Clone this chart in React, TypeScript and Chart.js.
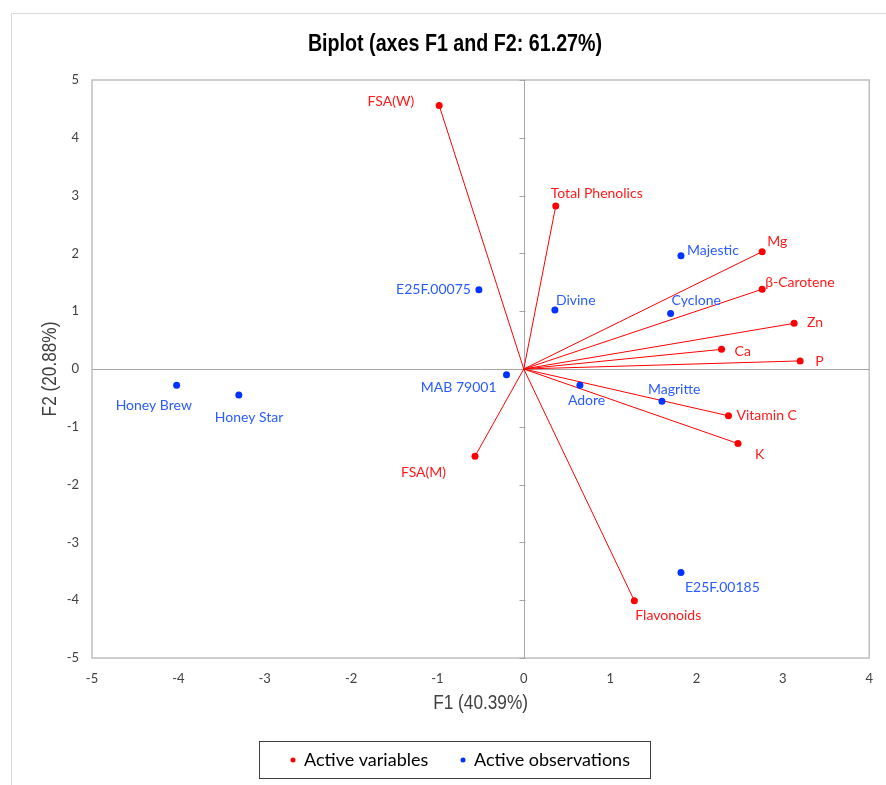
import React, { useEffect, useRef } from "react";
import { Chart, registerables } from "chart.js";

Chart.register(...registerables);

// ---------- data ----------
const chartTitle = "Biplot (axes F1 and F2: 61.27%)";
const xAxisTitle = "F1 (40.39%)";
const yAxisTitle = "F2 (20.88%)";

const variableNames = ["FSA(W)", "Total Phenolics", "Mg", "β-Carotene", "Zn", "Ca", "P", "Vitamin C", "K", "Flavonoids", "FSA(M)"];
const variableF1 = [-0.98, 0.37, 2.76, 2.76, 3.13, 2.29, 3.2, 2.37, 2.48, 1.28, -0.565];
const variableF2 = [4.56, 2.82, 2.03, 1.38, 0.79, 0.34, 0.14, -0.81, -1.29, -4.01, -1.51];

const observationNames = ["E25F.00075", "Divine", "Majestic", "Cyclone", "Magritte", "Adore", "E25F.00185", "MAB 79001", "Honey Brew", "Honey Star"];
const observationF1 = [-0.52, 0.36, 1.82, 1.7, 1.6, 0.65, 1.82, -0.2, -4.02, -3.3];
const observationF2 = [1.37, 1.02, 1.96, 0.96, -0.56, -0.28, -3.52, -0.1, -0.28, -0.45];

const xTickValues = [-5, -4, -3, -2, -1, 0, 1, 2, 3, 4];
const yTickValues = [-5, -4, -3, -2, -1, 0, 1, 2, 3, 4, 5];

const legendLabels = ["Active variables", "Active observations"];

// ---------- label placement (pixels, relative to point) ----------
type Place = [number, number, CanvasTextAlign];
const variableLabelPlace: Place[] = [
  [-25, -4, "right"],
  [-5, -13, "left"],
  [5, -10, "left"],
  [3, -7, "left"],
  [13, -1, "left"],
  [13, 2, "left"],
  [15, 1, "left"],
  [8, 0, "left"],
  [17, 11, "left"],
  [1, 15, "left"],
  [-29, 16, "right"],
];
const observationLabelPlace: Place[] = [
  [-8, 0, "right"],
  [1, -10, "left"],
  [6, -5, "left"],
  [1, -13, "left"],
  [-14, -12, "left"],
  [-12, 15, "left"],
  [4, 15, "left"],
  [-10, 13, "right"],
  [-61, 20, "left"],
  [-24, 22, "left"],
];

// ---------- style ----------
const RED = "#ff0000";
const RED_TEXT = "#ff1a1a";
const BLUE = "#0033ff";
const BLUE_TEXT = "#2a5cff";
const LABEL_FONT = "14px Lato, 'Open Sans', sans-serif";
const TICK_FONT_FAMILY = "Lato, 'Open Sans', sans-serif";
const SANS = "'Liberation Sans', Arial, sans-serif";
const NARROW_SCALE = 0.82;

function narrowText(ctx: CanvasRenderingContext2D, text: string, x: number, y: number, font: string, rotate = 0) {
  ctx.save();
  ctx.translate(x, y);
  if (rotate) ctx.rotate(rotate);
  ctx.scale(NARROW_SCALE, 1);
  ctx.font = font;
  ctx.textAlign = "center";
  ctx.textBaseline = "middle";
  ctx.fillText(text, 0, 0);
  ctx.restore();
}

const decorPlugin = {
  id: "biplotDecor",
  beforeDatasetsDraw(chart: any) {
    const { ctx, chartArea: a, scales } = chart;
    const xs = scales.x;
    const ys = scales.y;
    ctx.save();
    // outer frame (top + left)
    ctx.strokeStyle = "#d9d9d9";
    ctx.lineWidth = 1;
    ctx.beginPath();
    ctx.moveTo(11.5, 785);
    ctx.lineTo(11.5, 13.5);
    ctx.lineTo(886, 13.5);
    ctx.stroke();

    // plot frame
    ctx.strokeStyle = "#bfbfbf";
    ctx.lineWidth = 1.5;
    ctx.strokeRect(a.left, a.top, a.right - a.left, a.bottom - a.top);

    // zero lines
    const x0 = Math.round(xs.getPixelForValue(0)) + 0.5;
    const y0 = Math.round(ys.getPixelForValue(0)) + 0.5;
    ctx.strokeStyle = "#a6a6a6";
    ctx.lineWidth = 1;
    ctx.beginPath();
    ctx.moveTo(a.left, y0);
    ctx.lineTo(a.right, y0);
    ctx.moveTo(x0, a.top);
    ctx.lineTo(x0, a.bottom);
    yTickValues.forEach((v) => {
      const py = Math.round(ys.getPixelForValue(v)) + 0.5;
      ctx.moveTo(x0 - 5, py);
      ctx.lineTo(x0 + 1, py);
    });
    ctx.stroke();

    // vectors
    ctx.strokeStyle = RED;
    ctx.lineWidth = 1;
    ctx.beginPath();
    variableF1.forEach((v, i) => {
      ctx.moveTo(xs.getPixelForValue(0), ys.getPixelForValue(0));
      ctx.lineTo(xs.getPixelForValue(v), ys.getPixelForValue(variableF2[i]));
    });
    ctx.stroke();
    ctx.restore();
  },
  afterDatasetsDraw(chart: any) {
    const { ctx, scales } = chart;
    const xs = scales.x;
    const ys = scales.y;
    ctx.save();
    ctx.font = LABEL_FONT;
    ctx.textBaseline = "middle";
    variableNames.forEach((n, i) => {
      const p = variableLabelPlace[i];
      ctx.fillStyle = RED_TEXT;
      ctx.textAlign = p[2];
      ctx.fillText(n, xs.getPixelForValue(variableF1[i]) + p[0], ys.getPixelForValue(variableF2[i]) + p[1]);
    });
    observationNames.forEach((n, i) => {
      const p = observationLabelPlace[i];
      ctx.fillStyle = BLUE_TEXT;
      ctx.textAlign = p[2];
      ctx.fillText(n, xs.getPixelForValue(observationF1[i]) + p[0], ys.getPixelForValue(observationF2[i]) + p[1]);
    });
    ctx.restore();
  },
  afterDraw(chart: any) {
    const { ctx, chartArea: a } = chart;
    ctx.save();
    // title
    ctx.fillStyle = "#000000";
    narrowText(ctx, chartTitle, 455, 44, "bold 24px " + SANS);

    // axis titles
    ctx.fillStyle = "#404040";
    narrowText(ctx, xAxisTitle, (a.left + a.right) / 2, 703, "21px " + SANS);
    narrowText(ctx, yAxisTitle, 50, (a.top + a.bottom) / 2, "21px " + SANS, -Math.PI / 2);

    // legend
    ctx.strokeStyle = "#404040";
    ctx.lineWidth = 1;
    ctx.strokeRect(259.5, 741.5, 391, 37);
    ctx.font = "18px " + TICK_FONT_FAMILY;
    ctx.textAlign = "left";
    ctx.textBaseline = "middle";
    const colors = chart.data.datasets.map((d: any) => d.backgroundColor);
    const dotX = [293, 463];
    legendLabels.forEach((l, i) => {
      ctx.fillStyle = colors[i];
      ctx.beginPath();
      ctx.arc(dotX[i], 760, 2.5, 0, Math.PI * 2);
      ctx.fill();
      ctx.fillStyle = "#000000";
      ctx.fillText(l, dotX[i] + 11, 760);
    });
    ctx.restore();
  },
};

export default function App() {
  const ref = useRef<HTMLCanvasElement | null>(null);

  useEffect(() => {
    if (!ref.current) return;
    const chart = new Chart(ref.current, {
      type: "scatter",
      data: {
        datasets: [
          {
            label: legendLabels[0],
            data: variableF1.map((x, i) => ({ x, y: variableF2[i] })),
            backgroundColor: RED,
            borderColor: RED,
            pointRadius: 3.5,
            borderWidth: 0,
          },
          {
            label: legendLabels[1],
            data: observationF1.map((x, i) => ({ x, y: observationF2[i] })),
            backgroundColor: BLUE,
            borderColor: BLUE,
            pointRadius: 3.5,
            borderWidth: 0,
          },
        ],
      },
      options: {
        animation: false,
        responsive: false,
        events: [],
        layout: { padding: { left: 52, right: 14, top: 80, bottom: 97 } },
        plugins: {
          legend: { display: false },
          tooltip: { enabled: false },
          title: { display: false },
        },
        scales: {
          x: {
            type: "linear",
            min: -5,
            max: 4,
            afterFit: (s: any) => {
              s.height = 30;
            },
            afterBuildTicks: (s: any) => {
              s.ticks = xTickValues.map((v) => ({ value: v }));
            },
            grid: { display: false, drawTicks: false },
            border: { display: false },
            ticks: {
              padding: 13,
              color: "#404040",
              font: { family: TICK_FONT_FAMILY, size: 13 },
              maxRotation: 0,
            },
          },
          y: {
            type: "linear",
            min: -5,
            max: 5,
            afterFit: (s: any) => {
              s.width = 40;
            },
            afterBuildTicks: (s: any) => {
              s.ticks = yTickValues.map((v) => ({ value: v }));
            },
            grid: { display: false, drawTicks: false },
            border: { display: false },
            ticks: {
              padding: 13,
              color: "#404040",
              font: { family: TICK_FONT_FAMILY, size: 13 },
            },
          },
        },
      },
      plugins: [decorPlugin],
    });
    return () => chart.destroy();
  }, []);

  return (
    <div style={{ position: "fixed", left: 0, top: 0, width: 886, height: 785, background: "#ffffff" }}>
      <canvas ref={ref} width={886} height={785} style={{ display: "block" }} />
    </div>
  );
}
